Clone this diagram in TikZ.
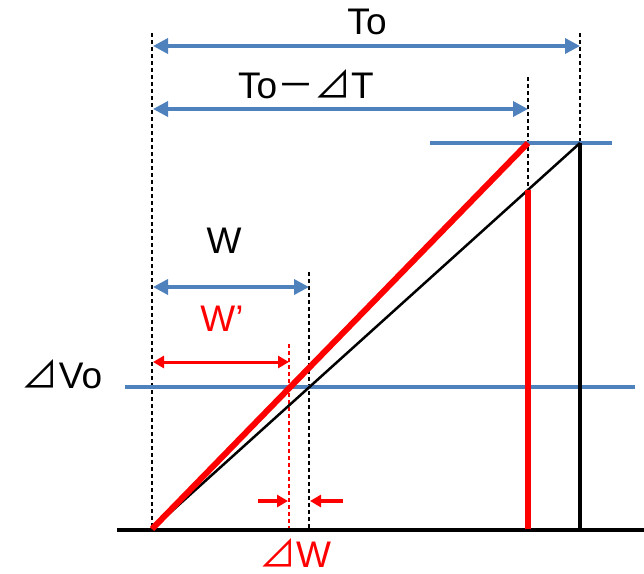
\documentclass[tikz,border=0pt]{standalone}
\usepackage{fontspec}
\setmainfont{Liberation Sans}
\newfontfamily\jpfont{Noto Sans CJK JP}
\usepackage{tikz}
\usetikzlibrary{arrows.meta, calc}

\definecolor{dimblue}{RGB}{79,129,189}
\definecolor{shiftred}{RGB}{255,0,0}

\begin{document}
\begin{tikzpicture}[
    x=1pt, y=-1pt,
    font=\fontsize{37}{42}\selectfont,
    % dimension arrows and guide lines
    dimarrow/.style={{Triangle[length=15pt,width=15pt]}-{Triangle[length=15pt,width=15pt]}, line width=3.5pt, color=dimblue},
    redarrow/.style={{Triangle[length=11pt,width=12pt]}-{Triangle[length=11pt,width=12pt]}, line width=3pt, color=shiftred},
    gapptr/.style={-{Triangle[length=11pt,width=12pt]}, line width=3.5pt, color=shiftred},
    guide/.style={black, line width=2pt, dash pattern=on 4pt off 3pt},
    redguide/.style={shiftred, line width=2pt, dash pattern=on 4pt off 3pt},
    levelline/.style={dimblue, line width=3.5pt},
    labeltext/.style={inner sep=0pt, anchor=center}
]
\useasboundingbox (0,0) rectangle (644,573);

% =========================================================
% KEY POINTS
% =========================================================
\coordinate (origin) at (152,529);
\coordinate (topBlack) at (580,143);
\coordinate (topRed) at (528,143);
\coordinate (crossRed) at (528,190);
\coordinate (footRed) at (528,529);
\coordinate (footBlack) at (580,529);
\coordinate (wBlack) at (309,387);
\coordinate (wRed) at (289,387);

% =========================================================
% GUIDE LINES
% =========================================================
\draw[guide] (152,33) -- (origin);
\draw[guide] (580,33) -- (topBlack);
\draw[guide] (528,77) -- (crossRed);
\draw[guide] (309,272) -- (309,529);
\draw[redguide] (289,344) -- (289,529);

% level lines
\draw[levelline] (430,143) -- (612,143);
\draw[levelline] (125,387) -- (635,387);

% =========================================================
% RAMPS
% =========================================================
\draw[black, line width=3.5pt] (117,530) -- (644,530);
\draw[black, line width=2.5pt] (origin) -- (topBlack);
\draw[black, line width=3.5pt] (topBlack) -- (footBlack);
\draw[shiftred, line width=6pt] (origin) -- (topRed);
\draw[shiftred, line width=5.5pt] (crossRed) -- (footRed);

% =========================================================
% DIMENSIONS
% =========================================================
\draw[dimarrow] (153,46) -- (580,46);
\node[labeltext] (lblTo) at (367,22) {To};

\draw[dimarrow] (153,109) -- (528,109);
\node[labeltext] (lblTdt) at (306,84) {To{\jpfont －⊿}T};

\draw[dimarrow] (153,287) -- (309,287);
\node[labeltext] (lblW) at (224,241) {W};

\draw[redarrow] (153,362) -- (289,362);
\node[labeltext, shiftred] (lblWr) at (222,319) {W’};

\node[labeltext] (lblVo) at (62,374) {{\jpfont ⊿}Vo};

% gap arrows
\coordinate (gapL) at (258,501);
\coordinate (gapR) at (343,501);
\draw[gapptr] (gapL) -- (288,501);
\draw[gapptr] (gapR) -- (310,501);
\node[labeltext, shiftred, text depth=0pt] (lblDw) at (295,553) {{\jpfont ⊿}W};

\end{tikzpicture}
\end{document}
